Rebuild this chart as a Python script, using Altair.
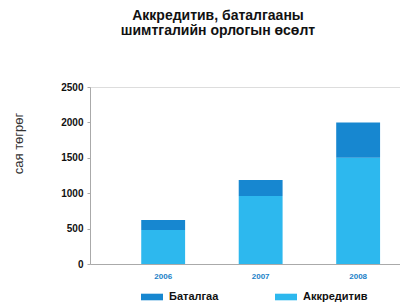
import altair as alt
import pandas as pd

years = ["2006", "2007", "2008"]
akkreditiv = [480, 960, 1500]
batalgaa = [140, 225, 500]
series = ["Баталгаа", "Аккредитив"]
colors = ["#1787d0", "#2db8ee"]
y_ticks = [0, 500, 1000, 1500, 2000, 2500]

rows = []
for i, yr in enumerate(years):
    rows.append({"year": yr, "series": "Аккредитив", "value": akkreditiv[i], "ord": 0})
    rows.append({"year": yr, "series": "Баталгаа", "value": batalgaa[i], "ord": 1})
df = pd.DataFrame(rows)

chart = alt.Chart(df).mark_bar().encode(
    x=alt.X("year:N", sort=years, title=None,
            scale=alt.Scale(paddingInner=0.55, paddingOuter=0.365, align=0.72),
            axis=alt.Axis(labelAngle=0, ticks=False, labelPadding=8, labelFontSize=8,
                          labelFontWeight="bold", labelColor="#1a7fc8",
                          domainColor="#aaaaaa")),
    y=alt.Y("value:Q", stack="zero", title="сая төгрөг",
            scale=alt.Scale(domain=[0, 2500], nice=False),
            axis=alt.Axis(values=y_ticks, format="d", grid=False, tickSize=3, labelPadding=4,
                          labelFontSize=10, labelFontWeight="bold", labelColor="#111111",
                          domainColor="#aaaaaa", tickColor="#aaaaaa",
                          titleFontSize=13, titleFontWeight="normal", titleColor="#333333",
                          titleX=-72, titleY=56, titleAlign="center", titleBaseline="middle")),
    color=alt.Color("series:N", scale=alt.Scale(domain=series, range=colors),
                    legend=alt.Legend(title=None, orient="none", direction="horizontal",
                                      legendX=51, legendY=199, columns=2, columnPadding=56,
                                      symbolType="M-1,-0.3H1V0.3H-1Z", symbolSize=484,
                                      symbolStrokeWidth=0, labelFontSize=11,
                                      labelFontWeight="bold", labelColor="#111111",
                                      labelOffset=6)),
    order=alt.Order("ord:Q", sort="ascending"),
).properties(
    width=310,
    height=177,
    title=alt.TitleParams(["Аккредитив, баталгааны", "шимтгалийн орлогын өсөлт"],
                          fontSize=14, fontWeight="bold", color="#111111",
                          anchor="middle", frame="group", dx=-27, offset=44, lineHeight=15),
    padding={"left": 82, "top": 79, "right": 0, "bottom": 39},
    autosize=alt.AutoSizeParams(type="none"),
).configure_view(stroke=None).configure(font="Liberation Sans")

chart.save("out.html", embed_options={"renderer": "svg", "actions": False})
